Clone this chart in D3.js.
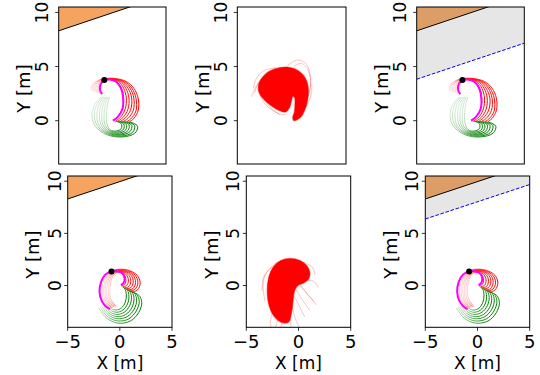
<!DOCTYPE html>
<html>
<head>
<meta charset="utf-8">
<style>
  body { margin: 0; background: #fff; }
  svg text { font-family: 'DejaVu Sans', sans-serif; fill: #000; }
</style>
</head>
<body>
<div id="chart"></div>
<script src="https://d3js.org/d3.v7.min.js"></script>
<script>
// axes
var xTicks = [-5, 0, 5];
var yTicks = [0, 5, 10];
var xRange = [-5, 5];
var yRange = [-4, 10.5];

// wall edge (orange above it) and safety lines (grey above them)
var wallEdge = [[-5, 8.3], [5, 11.63]];
var safeLineTop = [[-5, 3.83], [5, 7.16]];
var safeLineBottom = [[-5, 6.38], [5, 9.68]];

// top row: executed path, start point, forward (red) and backward (green) rollouts
var pathTop = [[0.05,0.0],[0.55,0.4],[0.95,1.1],[1.0,2.1],[0.8,3.0],[0.35,3.6],[-0.25,3.8],[-0.75,3.75],[-1.1,3.35],[-1.15,2.85],[-0.95,2.45]];
var startTop = [-0.75, 3.75];
var redTop = [
  [[-1.0,2.45],[-1.15,2.95],[-0.8,3.6],[-0.2,3.8],[0.4,3.62],[0.85,3.0],[1.05,2.1],[0.95,1.15],[0.55,0.4],[0.1,0.0]],
  [[-1.15,2.5],[-1.3,3.0],[-0.9,3.65],[-0.2,3.82],[0.55,3.62],[1.05,3.0],[1.3,2.1],[1.2,1.1],[0.8,0.35],[0.3,-0.02]],
  [[-1.3,2.55],[-1.42,3.05],[-0.95,3.7],[-0.15,3.85],[0.7,3.62],[1.25,3.0],[1.55,2.1],[1.45,1.05],[1.0,0.3],[0.5,-0.04]],
  [[-1.45,2.6],[-1.55,3.1],[-1.0,3.72],[-0.1,3.86],[0.85,3.62],[1.45,3.0],[1.8,2.1],[1.7,1.0],[1.2,0.25],[0.75,-0.06]],
  [[-1.6,2.65],[-1.68,3.15],[-1.05,3.75],[-0.05,3.88],[1.0,3.62],[1.65,3.0],[2.0,2.1],[1.95,0.95],[1.45,0.2],[1.0,-0.08]],
  [[-1.78,2.7],[-1.8,3.2],[-1.1,3.78],[0.0,3.9],[1.15,3.62],[1.82,3.0],[2.2,2.1],[2.2,0.9],[1.7,0.15],[1.3,-0.1]],
  [[-1.95,2.75],[-1.92,3.25],[-1.15,3.8],[0.05,3.92],[1.3,3.62],[2.0,3.0],[2.4,2.1],[2.42,1.0],[2.0,0.2],[1.6,-0.1]]
];
var greenTop = [
  [[0.1,0.0],[0.8,-0.25],[0.85,-0.7],[0.4,-0.95],[-0.2,-0.85],[-0.5,-0.3],[-0.55,0.6],[-0.45,1.5],[-0.25,2.2]],
  [[0.35,-0.02],[1.05,-0.3],[1.05,-0.78],[0.5,-1.05],[-0.25,-0.92],[-0.7,-0.34],[-0.77,0.58],[-0.65,1.5],[-0.38,2.2]],
  [[0.6,-0.03],[1.3,-0.35],[1.25,-0.85],[0.6,-1.15],[-0.3,-1.0],[-0.88,-0.37],[-0.98,0.56],[-0.85,1.5],[-0.5,2.2]],
  [[0.85,-0.05],[1.55,-0.38],[1.45,-0.92],[0.68,-1.25],[-0.35,-1.08],[-1.05,-0.4],[-1.2,0.54],[-1.05,1.5],[-0.62,2.2]],
  [[1.1,-0.07],[1.8,-0.42],[1.65,-1.0],[0.75,-1.33],[-0.4,-1.15],[-1.25,-0.43],[-1.45,0.52],[-1.25,1.5],[-0.75,2.2]],
  [[1.35,-0.08],[2.08,-0.46],[1.88,-1.08],[0.82,-1.42],[-0.45,-1.22],[-1.42,-0.46],[-1.68,0.51],[-1.45,1.5],[-0.88,2.2]],
  [[1.6,-0.1],[2.35,-0.5],[2.1,-1.15],[0.9,-1.5],[-0.5,-1.3],[-1.6,-0.5],[-1.9,0.5],[-1.65,1.5],[-1.0,2.2]]
];

// bottom row
var pathBottom = [[0.1,0.05],[0.35,0.25],[0.45,0.7],[0.2,1.2],[-0.3,1.38],[-0.8,1.35],[-1.4,1.05],[-1.8,0.35],[-1.95,-0.6],[-1.75,-1.45],[-1.35,-2.0],[-0.95,-2.25]];
var startBottom = [-0.8, 1.35];
var redBottom = [
  [[-0.35,-2.0],[-0.85,-1.3],[-0.95,-0.2],[-0.7,0.85],[-0.25,1.28],[0.2,1.25],[0.5,0.9],[0.58,0.45],[0.45,0.1],[0.15,0.0]],
  [[-0.45,-2.03],[-1.0,-1.32],[-1.1,-0.18],[-0.82,0.87],[-0.3,1.32],[0.28,1.29],[0.7,0.92],[0.82,0.42],[0.65,0.0],[0.3,-0.1]],
  [[-0.55,-2.06],[-1.15,-1.34],[-1.25,-0.16],[-0.94,0.89],[-0.35,1.36],[0.36,1.33],[0.9,0.94],[1.05,0.38],[0.85,-0.1],[0.45,-0.2]],
  [[-0.65,-2.1],[-1.28,-1.36],[-1.4,-0.14],[-1.06,0.91],[-0.4,1.4],[0.45,1.37],[1.1,0.96],[1.28,0.34],[1.05,-0.2],[0.6,-0.3]],
  [[-0.75,-2.13],[-1.42,-1.37],[-1.55,-0.12],[-1.18,0.92],[-0.45,1.43],[0.53,1.41],[1.28,0.98],[1.5,0.3],[1.27,-0.28],[0.78,-0.42]],
  [[-0.88,-2.16],[-1.56,-1.39],[-1.7,-0.11],[-1.32,0.94],[-0.5,1.47],[0.62,1.46],[1.47,0.99],[1.73,0.27],[1.48,-0.34],[0.96,-0.53]],
  [[-1.0,-2.2],[-1.7,-1.4],[-1.85,-0.1],[-1.45,0.95],[-0.55,1.5],[0.7,1.5],[1.65,1.0],[1.95,0.25],[1.7,-0.4],[1.15,-0.65]]
];
var greenBottom = [
  [[0.15,-0.05],[0.5,-0.35],[0.62,-0.9],[0.52,-1.6],[0.15,-2.15],[-0.35,-2.35],[-0.8,-2.2],[-1.0,-1.9]],
  [[0.3,-0.15],[0.72,-0.45],[0.87,-1.02],[0.73,-1.77],[0.29,-2.35],[-0.33,-2.56],[-0.89,-2.35],[-1.17,-1.93]],
  [[0.45,-0.25],[0.94,-0.55],[1.12,-1.14],[0.94,-1.93],[0.43,-2.55],[-0.31,-2.77],[-0.97,-2.5],[-1.34,-1.96]],
  [[0.65,-0.35],[1.17,-0.65],[1.36,-1.27],[1.16,-2.1],[0.57,-2.77],[-0.28,-2.98],[-1.05,-2.65],[-1.52,-2.0]],
  [[0.8,-0.43],[1.4,-0.75],[1.61,-1.39],[1.37,-2.27],[0.71,-2.98],[-0.25,-3.18],[-1.13,-2.8],[-1.7,-2.03]],
  [[1.0,-0.52],[1.62,-0.85],[1.86,-1.52],[1.58,-2.43],[0.86,-3.19],[-0.22,-3.39],[-1.22,-2.95],[-1.87,-2.06]],
  [[1.15,-0.6],[1.85,-0.95],[2.1,-1.65],[1.8,-2.6],[1.0,-3.4],[-0.2,-3.6],[-1.3,-3.1],[-2.05,-2.1]]
];

// sampled rollouts (middle column): dense core outline + loose strands
var blobTop = [[0.2,0.0],[0.85,0.35],[1.25,1.1],[1.5,2.1],[1.52,3.1],[1.25,3.95],[0.65,4.6],[-0.2,4.92],[-1.1,4.9],[-2.0,4.6],[-2.7,4.0],[-3.05,3.3],[-3.0,2.6],[-2.55,1.95],[-1.85,1.35],[-1.15,0.95],[-0.55,0.8],[-0.2,1.2],[-0.02,1.8],[0.12,2.25],[0.28,2.1],[0.3,1.5],[0.25,0.8],[0.1,0.3]];
var strandsTop = [
  [[-0.4,5.1],[0.5,5.6],[1.3,5.3],[1.7,4.2],[1.7,3.0],[1.4,2.0]],
  [[0.2,5.0],[0.9,5.3],[1.55,4.6],[1.75,3.4],[1.5,2.2]],
  [[-3.7,2.2],[-3.3,3.1],[-2.5,4.1],[-1.4,4.75],[-0.5,4.95]],
  [[-3.4,2.6],[-3.0,3.6],[-2.0,4.5],[-1.0,4.9]],
  [[-2.9,2.4],[-2.5,1.6],[-1.8,1.0],[-1.1,0.6]],
  [[-2.2,1.5],[-1.6,0.9],[-1.0,0.55],[-0.5,0.6]],
  [[1.3,1.2],[1.8,2.4],[1.85,3.4]],
  [[-1.5,4.9],[-2.6,4.6],[-3.3,3.8],[-3.5,3.0]]
];
var blobBottom = [[0.0,0.05],[0.5,0.25],[0.95,0.6],[1.1,1.2],[0.8,1.9],[0.15,2.4],[-0.8,2.6],[-1.7,2.4],[-2.4,1.8],[-2.85,0.8],[-3.0,-0.6],[-2.8,-2.0],[-2.3,-3.0],[-1.6,-3.55],[-0.95,-3.5],[-0.65,-2.5],[-0.5,-1.3],[-0.35,-0.45]];
var strandsBottom = [
  [[0.0,0.3],[0.7,-0.6],[1.7,-1.85]],
  [[0.1,0.0],[0.9,-0.9],[1.5,-1.5]],
  [[-0.3,-0.3],[0.4,-1.4],[1.1,-2.4]],
  [[-0.4,-1.0],[0.2,-2.2],[0.6,-3.0]],
  [[-0.6,-2.0],[-0.3,-3.2],[0.1,-4.0]],
  [[-0.8,-3.2],[-0.7,-4.0]],
  [[-1.4,-3.0],[-1.7,-4.0]],
  [[-2.0,-3.3],[-2.2,-4.0]],
  [[-2.5,-2.4],[-2.7,-3.6],[-2.6,-4.0]],
  [[-2.5,1.8],[-3.3,0.9],[-3.5,-0.5]],
  [[-2.0,2.3],[-3.1,1.2],[-3.4,0.0],[-3.2,-1.5]],
  [[0.5,2.2],[1.3,1.8],[1.6,1.0]],
  [[0.9,0.5],[1.5,0.4],[1.9,-0.2]]
];

var panels = [
  { x0: 58.7, x1: 166, y0: 7, y1: 164, row: 0, kind: "traj", path: pathTop, start: startTop, red: redTop, green: greenTop, band: null },
  { x0: 237.3, x1: 346, y0: 7, y1: 164, row: 0, kind: "samples", blob: blobTop, strands: strandsTop },
  { x0: 416.7, x1: 524.3, y0: 7, y1: 164, row: 0, kind: "traj", path: pathTop, start: startTop, red: redTop, green: greenTop, band: safeLineTop },
  { x0: 67.7, x1: 172, y0: 176, y1: 327.3, row: 1, kind: "traj", path: pathBottom, start: startBottom, red: redBottom, green: greenBottom, band: null },
  { x0: 246.3, x1: 350.7, y0: 176, y1: 327.3, row: 1, kind: "samples", blob: blobBottom, strands: strandsBottom },
  { x0: 425.3, x1: 529.7, y0: 176, y1: 327.3, row: 1, kind: "traj", path: pathBottom, start: startBottom, red: redBottom, green: greenBottom, band: safeLineBottom }
];

var svg = d3.select("#chart").append("svg")
  .attr("width", 540).attr("height", 375)
  .style("background", "#fff");

var defs = svg.append("defs");
var redFade = defs.append("linearGradient").attr("id", "redFade")
  .attr("x1", 0).attr("y1", 0).attr("x2", 1).attr("y2", 0);
redFade.append("stop").attr("offset", 0).attr("stop-color", "#ff0000").attr("stop-opacity", 0.15);
redFade.append("stop").attr("offset", 0.5).attr("stop-color", "#ff0000").attr("stop-opacity", 0.65);
redFade.append("stop").attr("offset", 1).attr("stop-color", "#ff0000").attr("stop-opacity", 1);
var greenFade = defs.append("linearGradient").attr("id", "greenFade")
  .attr("x1", 0).attr("y1", 0).attr("x2", 1).attr("y2", 0.4);
greenFade.append("stop").attr("offset", 0).attr("stop-color", "#008000").attr("stop-opacity", 0.08);
greenFade.append("stop").attr("offset", 0.5).attr("stop-color", "#008000").attr("stop-opacity", 0.45);
greenFade.append("stop").attr("offset", 1).attr("stop-color", "#008000").attr("stop-opacity", 1);

panels.forEach(function (p, i) {
  var x = d3.scaleLinear().domain(xRange).range([p.x0, p.x1]);
  var y = d3.scaleLinear().domain(yRange).range([p.y1, p.y0]);
  var line = d3.line().x(function (d) { return x(d[0]); }).y(function (d) { return y(d[1]); });
  var smooth = d3.line().x(function (d) { return x(d[0]); }).y(function (d) { return y(d[1]); })
    .curve(d3.curveCatmullRom.alpha(0.5));

  defs.append("clipPath").attr("id", "clip" + i)
    .append("rect").attr("x", p.x0).attr("y", p.y0)
    .attr("width", p.x1 - p.x0).attr("height", p.y1 - p.y0);

  var g = svg.append("g");
  var plot = g.append("g").attr("clip-path", "url(#clip" + i + ")");

  if (p.kind === "traj") {
    // wall region above the edge
    plot.append("path")
      .attr("d", line(wallEdge.concat([[5, 20], [-5, 20]])) + "Z")
      .attr("fill", "#f4a460");
    if (p.band) {
      plot.append("path")
        .attr("d", line(p.band.concat([[5, 20], [-5, 20]])) + "Z")
        .attr("fill", "gray").attr("fill-opacity", 0.2);
    }
    plot.append("path").attr("d", line(wallEdge))
      .attr("fill", "none").attr("stroke", "#000").attr("stroke-width", 1);
    if (p.band) {
      plot.append("path").attr("d", line(p.band))
        .attr("fill", "none").attr("stroke", "#0000ff").attr("stroke-width", 1)
        .attr("stroke-dasharray", "3.7,1.6");
    }

    plot.selectAll(".green").data(p.green).enter().append("path")
      .attr("d", smooth).attr("fill", "none")
      .attr("stroke", "url(#greenFade)").attr("stroke-width", 1);
    plot.selectAll(".red").data(p.red).enter().append("path")
      .attr("d", smooth).attr("fill", "none")
      .attr("stroke", "url(#redFade)").attr("stroke-width", 1);

    plot.append("path").attr("d", smooth(p.path))
      .attr("fill", "none").attr("stroke", "#ff00ff").attr("stroke-width", 2);
    plot.append("circle").attr("cx", x(p.start[0])).attr("cy", y(p.start[1]))
      .attr("r", 3).attr("fill", "#000");
  } else {
    plot.selectAll(".strand").data(p.strands).enter().append("path")
      .attr("d", smooth).attr("fill", "none")
      .attr("stroke", "#ff0000").attr("stroke-opacity", 0.3).attr("stroke-width", 0.8);
    plot.append("path")
      .attr("d", d3.line().x(function (d) { return x(d[0]); }).y(function (d) { return y(d[1]); })
        .curve(d3.curveCatmullRomClosed.alpha(0.5))(p.blob))
      .attr("fill", "#ff0000").attr("stroke", "#ff0000").attr("stroke-opacity", 0.5).attr("stroke-width", 1.2);
  }

  // frame
  g.append("rect").attr("x", p.x0).attr("y", p.y0)
    .attr("width", p.x1 - p.x0).attr("height", p.y1 - p.y0)
    .attr("fill", "none").attr("stroke", "#000").attr("stroke-width", 1);

  // y ticks (labels rotated like the axis title)
  var tickOff = p.row === 0 ? 16.7 : 13.2;
  yTicks.forEach(function (t) {
    g.append("line").attr("x1", p.x0 - 3.5).attr("x2", p.x0)
      .attr("y1", y(t)).attr("y2", y(t)).attr("stroke", "#000").attr("stroke-width", 0.8);
    g.append("text")
      .attr("transform", "translate(" + (p.x0 - tickOff) + "," + y(t) + ") rotate(-90)")
      .attr("text-anchor", "middle").attr("dy", "0.36em")
      .style("font-size", "17px").text(t);
  });
  g.append("text")
    .attr("transform", "translate(" + (p.x0 - 34.2) + "," + ((p.y0 + p.y1) / 2 + 3) + ") rotate(-90)")
    .attr("text-anchor", "middle").attr("dy", "0.32em")
    .style("font-size", "18px").text("Y [m]");

  if (p.row === 1) {
    xTicks.forEach(function (t) {
      g.append("line").attr("x1", x(t)).attr("x2", x(t))
        .attr("y1", p.y1).attr("y2", p.y1 + 3.5).attr("stroke", "#000").attr("stroke-width", 0.8);
      g.append("text").attr("x", x(t)).attr("y", p.y1 + 21)
        .attr("text-anchor", "middle").style("font-size", "18px")
        .text(t < 0 ? "\u2212" + Math.abs(t) : t);
    });
    g.append("text").attr("x", (p.x0 + p.x1) / 2).attr("y", p.y1 + 41.5)
      .attr("text-anchor", "middle").style("font-size", "17px").text("X [m]");
  }
});
</script>
</body>
</html>
